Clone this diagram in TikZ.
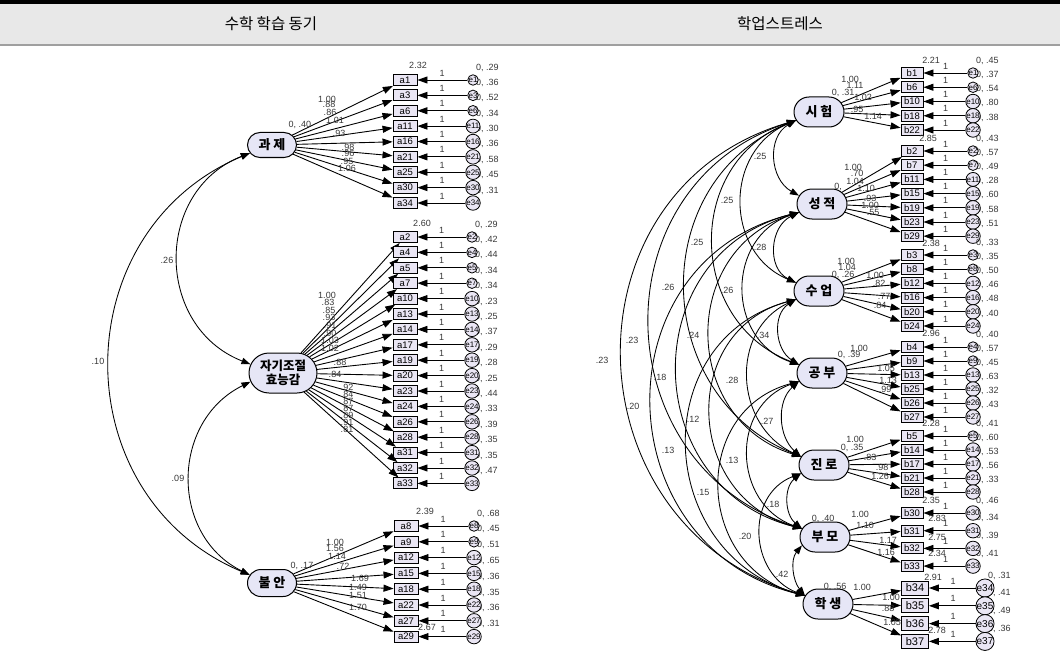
\documentclass[tikz,border=0pt]{standalone}
\usepackage{fontspec}
\setmainfont{Liberation Sans}
\newfontfamily\kr{Noto Sans CJK KR}
\usetikzlibrary{arrows.meta,shapes.misc,calc}
\definecolor{latfill}{RGB}{230,230,246}
\definecolor{obsfill}{RGB}{234,230,244}
\definecolor{headgray}{RGB}{232,232,232}
\definecolor{numcol}{RGB}{55,55,55}

% #1 latent, #2 prefix, #3 box x, #4 err x, #5 y0, #6 dy, #7 list num/var, #8 style suffix
\newcommand\itemgroup[8]{%
  \foreach \n/\v [count=\k from 0] in {#7}{%
    \pgfmathsetmacro\ry{#5+#6*\k}%
    \node[num] at ({(#3+#4)/2+3},\ry-7) {1};
    \node[num,anchor=west] at (#4+3,\ry-12.5) {0, \v};
  }%
  \foreach \n/\v [count=\k from 0] in {#7}{%
    \pgfmathsetmacro\ry{#5+#6*\k}%
    \node[obs#8] (#2\n) at (#3,\ry) {#2\n};
    \node[err#8] (e#2\n) at (#4,\ry) {e\n};
    \draw[load] (#1) -- (#2\n);
    \draw[load] (e#2\n) -- (#2\n);
  }%
}
% covariance arc bulging left: #1 start (upper), #2 end (lower), #3 bulge
\newcommand\covarc[3]{%
  \draw[cov] let \p1=(#1), \p2=(#2),
    \n1={(\y1-\y2)/2}, \n2={#3/\n1}, \n3={4/3*#3},
    \n4={2/3*\n1*(1-\n2*\n2)}, \n5={-(\n4)}, \n6={-(\n3)} in
    (#1) .. controls +(\n6,\n5) and +(\n6,\n4) .. (#2);%
}

\begin{document}
\begin{tikzpicture}[x=1pt,y=-1pt,
  lat/.style={rounded rectangle, draw, fill=latfill, line width=1pt,
    minimum width=51pt, minimum height=25pt, inner sep=1pt, align=center,
    font=\kr\bfseries\fontsize{13}{14}\selectfont},
  latR/.style={lat, minimum width=52pt, minimum height=30pt},
  obs/.style={rectangle, draw, fill=obsfill, line width=0.9pt,
    minimum width=24pt, minimum height=11pt, inner sep=0pt,
    font=\fontsize{9.5}{10}\selectfont},
  obsR/.style={obs, minimum width=22pt},
  obsB/.style={obs, minimum width=27pt, minimum height=14pt, font=\fontsize{11}{12}\selectfont},
  err/.style={circle, draw, fill=obsfill, line width=0.8pt, minimum size=10.5pt,
    inner sep=0pt, font=\fontsize{8}{8}\selectfont},
  errR/.style={err},
  errB/.style={err, minimum size=14pt, font=\fontsize{10}{10}\selectfont},
  num/.style={font=\fontsize{9}{9}\selectfont, text=numcol, inner sep=0pt},
  load/.style={-{Triangle[length=10pt,width=7pt]}, line width=0.9pt},
  cov/.style={{Triangle[length=9pt,width=6.5pt]}-{Triangle[length=9pt,width=6.5pt]}, line width=0.85pt},
  head/.style={font=\kr\fontsize{15.5}{17}\selectfont}
]
\useasboundingbox (0,0) rectangle (1060,658);
% header
\fill[black] (0,0) rectangle (1060,4);
\fill[headgray] (0,4) rectangle (1060,44);
\fill[gray!75] (0,44) rectangle (1060,46);
\node[head] (h1) at (271,24) {수학 학습 동기};
\node[head] (h2) at (780,24) {학업스트레스};

% latent variables
\node[lat] (G) at (272,145) {과 제};
\node[lat, minimum width=70pt, minimum height=40pt, font=\kr\bfseries\fontsize{12.5}{13.5}\selectfont] (S) at (283,373) {자기조절\\효능감};
\node[lat, minimum height=27pt] (B) at (272,583) {불 안};
\node[latR] (R1) at (819,112) {시 험};
\node[latR] (R2) at (822,204) {성 적};
\node[latR] (R3) at (819,291) {수 업};
\node[latR] (R4) at (822,373) {공 부};
\node[latR] (R5) at (824,465) {진 로};
\node[latR] (R6) at (825,537) {부 모};
\node[latR] (R7) at (828,604) {학 생};

% items
\itemgroup{G}{a}{405}{473}{80}{15.375}{1/.29, 3/.36, 6/.52, 11/.34, 16/.30, 21/.36, 25/.58, 30/.45, 34/.31}{}
\itemgroup{S}{a}{405}{472}{237}{15.4}{2/.29, 4/.42, 5/.44, 7/.34, 10/.34, 13/.23, 14/.25, 17/.37, 19/.29, 20/.28, 23/.25, 24/.44, 26/.33, 28/.39, 31/.35, 32/.35, 33/.47}{}
\itemgroup{B}{a}{406}{474}{526}{15.8}{8/.68, 9/.45, 12/.51, 15/.65, 18/.36, 22/.35, 27/.36, 29/.31}{}
\itemgroup{R1}{b}{912}{973}{73}{14.25}{1/.45, 6/.37, 10/.54, 18/.80, 22/.38}{R}
\itemgroup{R2}{b}{912}{973}{151}{14.2}{2/.43, 7/.57, 11/.49, 15/.28, 19/.60, 23/.58, 29/.51}{R}
\itemgroup{R3}{b}{912}{973}{255}{14.2}{3/.33, 8/.35, 12/.50, 16/.46, 20/.48, 24/.40}{R}
\itemgroup{R4}{b}{912}{973}{347}{14}{4/.40, 9/.57, 13/.45, 25/.63, 26/.32, 27/.43}{R}
\itemgroup{R5}{b}{912}{973}{436}{14}{5/.41, 14/.60, 17/.53, 21/.56, 28/.33}{R}
\itemgroup{R6}{b}{912}{973}{513}{17.7}{30/.46, 31/.34, 32/.39, 33/.41}{R}
\itemgroup{R7}{b}{915}{985}{588}{17.8}{34/.31, 35/.41, 36/.49, 37/.36}{B}

% covariances
\covarc{G.200}{S.165}{72pt}
\covarc{G.200}{B.160}{140pt}
\covarc{S.195}{B.160}{60pt}
\foreach \i/\j/\s in {1/2/22, 1/3/54, 1/4/84, 1/5/113, 1/6/149, 1/7/178,
  2/3/22, 2/4/55, 2/5/90, 2/6/123, 2/7/150,
  3/4/18, 3/5/50, 3/6/88, 3/7/113,
  4/5/17, 4/6/52, 4/7/82,
  5/6/13, 5/7/42, 6/7/9}{\covarc{R\i.200}{R\j.160}{\s pt}}

% labels
\foreach \px/\py/\t in {
  167/260/.26, 98/361/.10, 178/478/.09,
  760/156/.25, 727/200/.25, 697/242/.25, 668/287/.26, 632/340/.23, 602/360/.23,
  760/247/.28, 727/290/.26, 693/335/.24, 660/377/.18, 633/406/.20,
  763/335/.34, 732/380/.28, 693/419/.12, 668/450/.13,
  767/421/.27, 732/460/.13, 703/492/.15,
  773/504/.18, 745/536/.20, 782/574/.42,
  418/65/2.32, 422/223/2.60, 425/511/2.39, 427/627/2.67,
  931/60/2.21, 928/138/2.85, 931/243/2.38, 931/333/2.96, 931/423/2.28,
  931/500/2.35, 937/518/2.83, 937/537/2.75, 937/553/2.34, 933/577/2.91, 937/630/2.78,
  327/99/1.00, 329/104/.88, 330/112/.86, 335/120/1.01, 339/133/.93,
  348/147/.98, 348/153/.96, 347/161/.95, 347/168/1.06, 300/125/{0, .40},
  327/295/1.00, 328/302/.83, 329/310/.85, 329/317/.93, 330/325/.91, 330/333/.90,
  330/340/1.03, 330/348/1.02, 340/362/.88, 335/374/.84, 347/387/.92, 347/394/.84,
  347/401/.87, 347/408/.87, 347/415/.89, 347/422/.91, 347/429/.81,
  335/542/1.00, 335/548/1.56, 337/556/1.14, 343/566/.72, 302/566/{0, .17},
  360/578/1.69, 358/587/1.49, 358/595/1.51, 358/607/1.70,
  850/79/1.00, 855/85/1.11, 863/97/1.02, 857/109/.95, 873/116/1.14, 843/93/{0, .31},
  853/167/1.00, 857/173/.70, 855/181/1.04, 866/188/1.10, 870/198/.93, 870/205/1.00, 873/212/.55, 838/187/{0,},
  846/261/1.00, 847/267/1.04, 843/275/{0, .26}, 875/275/1.00, 879/283/.82, 884/296/.77, 880/305/.84,
  859/348/1.00, 849/355/{0, .39}, 886/368/1.05, 888/380/1.13, 885/389/.99,
  855/439/1.00, 852/448/{0, .35}, 870/457/.83, 882/467/.98, 880/476/1.26,
  860/514/1.00, 823/519/{0, .40}, 865/525/1.10, 888/540/1.17, 886/552/1.16,
  835/587/{0, .56}, 862/587/1.00, 891/597/1.00, 888/608/.88, 892/622/1.05}
  {\node[num] at (\px,\py) {\t};}
\end{tikzpicture}
\end{document}
